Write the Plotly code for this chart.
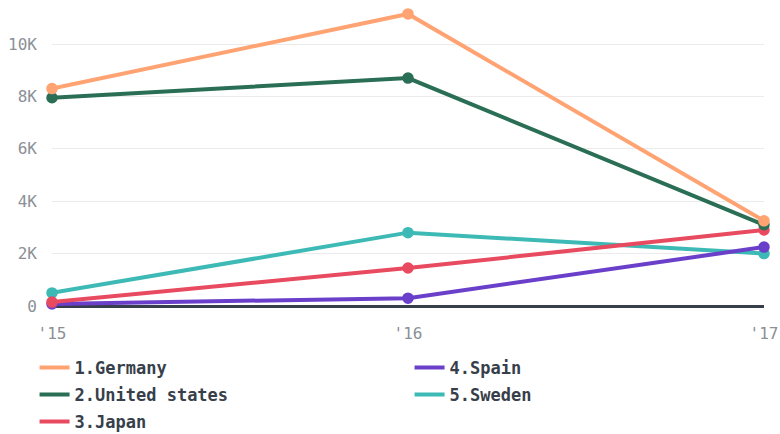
import plotly.graph_objects as go

years = ["'15", "'16", "'17"]
xpos = [0, 1, 2]
germany = [8300, 11150, 3250]
united_states = [7950, 8700, 3100]
japan = [150, 1450, 2900]
spain = [80, 300, 2250]
sweden = [500, 2800, 2000]

series = [
    # name, values, color, legend id, rank
    ("5.Sweden", sweden, "#3dbab5", "legend2", 2),
    ("4.Spain", spain, "#6a3fc9", "legend", 2),
    ("3.Japan", japan, "#e84a5f", "legend3", 1),
    ("2.United states", united_states, "#2a6e55", "legend2", 1),
    ("1.Germany", germany, "#ffa372", "legend", 1),
]

fig = go.Figure()
for name, vals, color, leg, rank in series:
    fig.add_trace(go.Scatter(
        x=xpos, y=vals, name=name, mode="lines",
        line=dict(color=color, width=4),
        cliponaxis=False, legend=leg, legendrank=rank,
    ))
    fig.add_trace(go.Scatter(
        x=xpos, y=vals, name=name, mode="markers",
        marker=dict(size=10, color=color, line=dict(color=color, width=1.5)),
        cliponaxis=False, showlegend=False,
    ))

def row_y(py):
    return (306 - py) / 296

legfont = dict(family="DejaVu Sans Mono", size=17, color="#37404a", weight="bold")
common = dict(orientation="h", x=-0.0245, xanchor="left", yanchor="middle",
              entrywidth=330, entrywidthmode="pixels", font=legfont,
              bgcolor="rgba(0,0,0,0)")

tickfont = dict(family="DejaVu Sans Mono", size=16, color="#8a9096")

fig.update_layout(
    width=780, height=434,
    margin=dict(l=52, r=16, t=10, b=128, autoexpand=False),
    plot_bgcolor="white", paper_bgcolor="white",
    showlegend=True,
    legend=dict(y=row_y(368), **common),
    legend2=dict(y=row_y(395), **common),
    legend3=dict(y=row_y(422), **common),
    xaxis=dict(
        range=[0, 2], tickvals=xpos, ticktext=years,
        showgrid=False, zeroline=False, showline=False, automargin=False,
        tickfont=tickfont, ticks="", ticklabelstandoff=16,
    ),
    yaxis=dict(
        range=[0, 11300], tickvals=[0, 2000, 4000, 6000, 8000, 10000],
        ticktext=["0", "2K", "4K", "6K", "8K", "10K"], automargin=False,
        showgrid=True, gridcolor="#ebebeb", gridwidth=1,
        zeroline=True, zerolinecolor="#37404a", zerolinewidth=3,
        tickfont=tickfont, ticks="", ticklabelstandoff=14,
    ),
)

fig.write_html("out.html", config={"displayModeBar": False},
               post_script="document.body.style.margin='0';")
